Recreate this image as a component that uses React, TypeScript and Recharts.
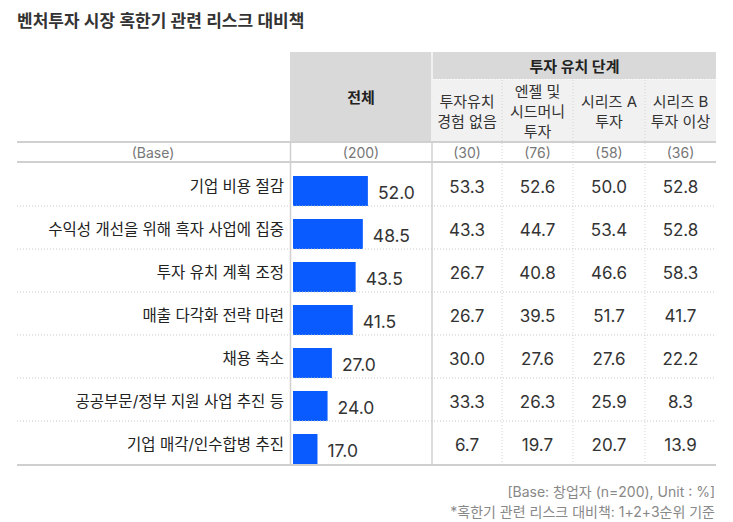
import React from "react";
import { BarChart, Bar, XAxis, YAxis, LabelList } from "recharts";

const categories = [
  "기업 비용 절감",
  "수익성 개선을 위해 흑자 사업에 집중",
  "투자 유치 계획 조정",
  "매출 다각화 전략 마련",
  "채용 축소",
  "공공부문/정부 지원 사업 추진 등",
  "기업 매각/인수합병 추진",
];
const totalValues = [52.0, 48.5, 43.5, 41.5, 27.0, 24.0, 17.0];
const noInvestValues = [53.3, 43.3, 26.7, 26.7, 30.0, 33.3, 6.7];
const angelSeedValues = [52.6, 44.7, 40.8, 39.5, 27.6, 26.3, 19.7];
const seriesAValues = [50.0, 53.4, 46.6, 51.7, 27.6, 25.9, 20.7];
const seriesBValues = [52.8, 52.8, 58.3, 41.7, 22.2, 8.3, 13.9];
const baseLabels = ["(200)", "(30)", "(76)", "(58)", "(36)"];
const subHeaders = [
  ["투자유치", "경험 없음"],
  ["엔젤 및", "시드머니", "투자"],
  ["시리즈 A", "투자"],
  ["시리즈 B", "투자 이상"],
];
const title = "벤처투자 시장 혹한기 관련 리스크 대비책";
const groupHeader = "투자 유치 단계";
const totalHeader = "전체";
const baseRowLabel = "(Base)";
const footnotes = ["[Base: 창업자 (n=200), Unit : %]", "*혹한기 관련 리스크 대비책: 1+2+3순위 기준"];

const data = categories.map((name, i) => ({
  name,
  total: totalValues[i],
  noInvest: noInvestValues[i],
  angelSeed: angelSeedValues[i],
  seriesA: seriesAValues[i],
  seriesB: seriesBValues[i],
}));

const FONT = "Inter, 'Noto Sans CJK KR', 'Noto Sans', sans-serif";
const W = 733;
const H = 522;
const LEFT = 17;
const RIGHT = 716;
const COL_TOTAL = [290, 432];
const SUB_BOUNDS = [432, 502, 573, 645, 716];
const subCenters = SUB_BOUNDS.slice(0, 4).map((b, i) => (b + SUB_BOUNDS[i + 1]) / 2);
const totalCenter = (COL_TOTAL[0] + COL_TOTAL[1]) / 2;
const BODY_TOP = 163;
const BODY_BOTTOM = 464;
const BAND = (BODY_BOTTOM - BODY_TOP) / categories.length;
const BAR_COLOR = "#0a5bff";
const colKeys = ["noInvest", "angelSeed", "seriesA", "seriesB"] as const;

function RowTick(props: any) {
  const { y, payload, index } = props;
  const idx = payload?.index ?? index;
  const row = data[idx];
  const last = idx === categories.length - 1;
  const lineY = y + BAND / 2;
  return (
    <g>
      <text
        x={284}
        y={y + 1.5}
        textAnchor="end"
        dominantBaseline="central"
        fontFamily={FONT}
        fontSize={15.5}
        fill="#222"
      >
        {payload.value}
      </text>
      {colKeys.map((k, ci) => (
        <text
          key={k}
          x={subCenters[ci]}
          y={y + 2}
          textAnchor="middle"
          dominantBaseline="central"
          fontFamily={FONT}
          fontSize={17}
          fill="#333"
        >
          {row[k].toFixed(1)}
        </text>
      ))}
      {last ? (
        <line x1={LEFT} x2={RIGHT} y1={lineY + 1} y2={lineY + 1} stroke="#cfcfcf" strokeWidth={2} />
      ) : (
        <line x1={LEFT} x2={RIGHT} y1={lineY} y2={lineY} stroke="#c8c8c8" strokeWidth={1} strokeDasharray="1 2" />
      )}
    </g>
  );
}

function BarShape(props: any) {
  const { x, y, width, height } = props;
  return <rect x={x} y={y + 6} width={Math.max(width, 0)} height={height} fill={BAR_COLOR} />;
}

function BarValueLabel(props: any) {
  const { x, y, width, height, value } = props;
  return (
    <text
      x={x + width + 10}
      y={y + 6 + height / 2 + 1}
      textAnchor="start"
      dominantBaseline="central"
      fontFamily={FONT}
      fontSize={17.5}
      fill="#333"
    >
      {Number(value).toFixed(1)}
    </text>
  );
}

function Background() {
  return (
    <svg width={W} height={H} style={{ position: "absolute", left: 0, top: 0 }}>
      <rect x={0} y={0} width={W} height={H} fill="#ffffff" />
      <text x={LEFT} y={20.5} dominantBaseline="central" fontFamily={FONT} fontSize={17} fontWeight={600} fill="#333">
        {title}
      </text>
      <rect x={COL_TOTAL[0]} y={52} width={COL_TOTAL[1] - COL_TOTAL[0] - 1} height={89} fill="#d9d9d9" />
      <rect x={433} y={52} width={RIGHT - 433} height={27} fill="#d9d9d9" />
      <rect x={433} y={79} width={RIGHT - 433} height={62} fill="#f1f1f1" />
      <text x={totalCenter} y={97} textAnchor="middle" dominantBaseline="central" fontFamily={FONT} fontSize={15} fontWeight={700} fill="#222">
        {totalHeader}
      </text>
      <text x={(433 + RIGHT) / 2} y={66} textAnchor="middle" dominantBaseline="central" fontFamily={FONT} fontSize={15} fontWeight={700} fill="#222">
        {groupHeader}
      </text>
      {subHeaders.map((lines, ci) =>
        lines.map((ln, li) => (
          <text
            key={ci + "-" + li}
            x={subCenters[ci]}
            y={111 + (li - (lines.length - 1) / 2) * 20}
            textAnchor="middle"
            dominantBaseline="central"
            fontFamily={FONT}
            fontSize={15}
            fill="#333"
          >
            {ln}
          </text>
        ))
      )}
      {SUB_BOUNDS.slice(1, 4).map((bx) => (
        <line key={bx} x1={bx} x2={bx} y1={80} y2={BODY_BOTTOM} stroke="#d4d4d4" strokeWidth={1} strokeDasharray="1 2" />
      ))}
      <line x1={433} x2={RIGHT} y1={79.5} y2={79.5} stroke="#ffffff" strokeWidth={1} strokeDasharray="1 2" />
      <line x1={290.5} x2={290.5} y1={141} y2={BODY_BOTTOM + 2} stroke="#d0d0d0" strokeWidth={1.5} />
      <line x1={432} x2={432} y1={52} y2={141} stroke="#ececec" strokeWidth={1.5} />
      <line x1={432} x2={432} y1={141} y2={BODY_BOTTOM + 2} stroke="#d0d0d0" strokeWidth={1.5} />
      <line x1={LEFT} x2={RIGHT} y1={142} y2={142} stroke="#d0d0d0" strokeWidth={2} />
      <line x1={LEFT} x2={RIGHT} y1={162} y2={162} stroke="#d0d0d0" strokeWidth={2} />
      <text x={153} y={152} textAnchor="middle" dominantBaseline="central" fontFamily={FONT} fontSize={14} fill="#777">
        {baseRowLabel}
      </text>
      {[totalCenter, ...subCenters].map((cx, i) => (
        <text key={i} x={cx} y={152} textAnchor="middle" dominantBaseline="central" fontFamily={FONT} fontSize={14} fill="#777">
          {baseLabels[i]}
        </text>
      ))}
      {footnotes.map((f, i) => (
        <text key={i} x={RIGHT - 1} y={491 + i * 20} textAnchor="end" dominantBaseline="central" fontFamily={FONT} fontSize={14} fill="#888">
          {f}
        </text>
      ))}
    </svg>
  );
}

export default function App() {
  return (
    <div style={{ position: "absolute", left: 0, top: 0, width: W, height: H, background: "#fff" }}>
      <Background />
      <div style={{ position: "absolute", left: 0, top: 0 }}>
        <BarChart
          width={W}
          height={H}
          data={data}
          layout="vertical"
          margin={{ top: BODY_TOP, bottom: H - BODY_BOTTOM, left: 0, right: W - 293 - 144 }}
          barCategoryGap={0}
        >
          <XAxis type="number" domain={[0, 100]} hide />
          <YAxis
            type="category"
            dataKey="name"
            width={293}
            axisLine={false}
            tickLine={false}
            interval={0}
            tick={<RowTick />}
          />
          <Bar dataKey="total" barSize={30} fill={BAR_COLOR} shape={<BarShape />} isAnimationActive={false}>
            <LabelList dataKey="total" content={<BarValueLabel />} />
          </Bar>
        </BarChart>
      </div>
    </div>
  );
}
